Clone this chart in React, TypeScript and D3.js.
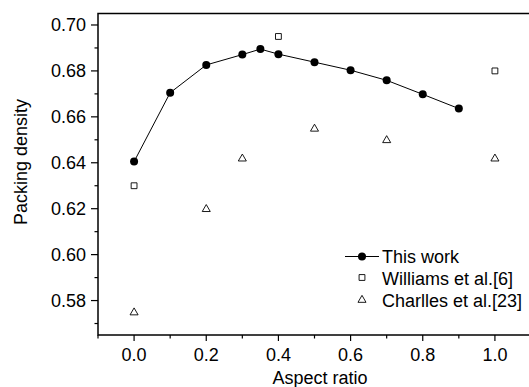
import { useEffect, useRef } from "react";
import * as d3 from "d3";

const thisWorkX = [0.0, 0.1, 0.2, 0.3, 0.35, 0.4, 0.5, 0.6, 0.7, 0.8, 0.9];
const thisWorkY = [0.6405, 0.6705, 0.6826, 0.6871, 0.6895, 0.6873, 0.6838, 0.6803, 0.6759, 0.6698, 0.6636];

const williamsX = [0.0, 0.4, 1.0];
const williamsY = [0.630, 0.695, 0.680];

const charllesX = [0.0, 0.2, 0.3, 0.5, 0.7, 1.0];
const charllesY = [0.575, 0.620, 0.642, 0.655, 0.650, 0.642];

const xTicks = [0.0, 0.2, 0.4, 0.6, 0.8, 1.0];
const yTicks = [0.58, 0.6, 0.62, 0.64, 0.66, 0.68, 0.7];
const legendLabels = ["This work", "Williams et al.[6]", "Charlles et al.[23]"];

export default function App() {
  const ref = useRef<SVGSVGElement>(null);

  useEffect(() => {
    const width = 529;
    const height = 387;
    const margin = { top: 13.5, right: -2, bottom: 52, left: 98 };
    const font = "'Liberation Sans', Arial, sans-serif";
    const fs = 18;

    const svg = d3.select(ref.current).attr("width", width).attr("height", height);
    svg.selectAll("*").remove();

    const x = d3.scaleLinear().domain([-0.1, 1.1]).range([margin.left, width - margin.right]);
    const y = d3.scaleLinear().domain([0.565, 0.705]).range([height - margin.bottom, margin.top]);

    // frame
    svg.append("rect")
      .attr("x", margin.left).attr("y", margin.top)
      .attr("width", x(1.1) - margin.left).attr("height", y(0.565) - margin.top)
      .attr("fill", "none").attr("stroke", "#000").attr("stroke-width", 1.5);

    // x axis
    const xAxis = svg.append("g").attr("transform", `translate(0,${y(0.565)})`);
    xAxis.selectAll("line")
      .data(d3.range(-0.1, 1.11, 0.1))
      .enter().append("line")
      .attr("x1", d => x(d)).attr("x2", d => x(d))
      .attr("y1", 0).attr("y2", d => (Math.abs(Math.round(d * 10) % 2) === 0 ? 6 : 3.5))
      .attr("stroke", "#000").attr("stroke-width", 1.2);
    xAxis.selectAll("text")
      .data(xTicks)
      .enter().append("text")
      .attr("x", d => x(d)).attr("y", 25.5)
      .attr("text-anchor", "middle")
      .attr("font-family", font).attr("font-size", fs)
      .text(d => d.toFixed(1));

    // y axis
    const yAxis = svg.append("g").attr("transform", `translate(${margin.left},0)`);
    yAxis.selectAll("line")
      .data(d3.range(0.57, 0.7051, 0.01))
      .enter().append("line")
      .attr("y1", d => y(d)).attr("y2", d => y(d))
      .attr("x1", 0).attr("x2", d => (Math.round(d * 100) % 2 === 0 ? -7 : -3.5))
      .attr("stroke", "#000").attr("stroke-width", 1.2);
    yAxis.selectAll("text")
      .data(yTicks)
      .enter().append("text")
      .attr("x", -12).attr("y", d => y(d) + 6.5)
      .attr("text-anchor", "end")
      .attr("font-family", font).attr("font-size", fs)
      .text(d => d.toFixed(2));

    // axis titles
    svg.append("text")
      .attr("x", 320).attr("y", 384)
      .attr("text-anchor", "middle")
      .attr("font-family", font).attr("font-size", fs)
      .text("Aspect ratio");
    svg.append("text")
      .attr("transform", "rotate(-90)")
      .attr("x", -162).attr("y", 27)
      .attr("text-anchor", "middle")
      .attr("font-family", font).attr("font-size", fs)
      .text("Packing density");

    // this work line + markers
    const pts = thisWorkX.map((d, i) => [d, thisWorkY[i]] as [number, number]);
    svg.append("path")
      .datum(pts)
      .attr("d", d3.line<[number, number]>().x(d => x(d[0])).y(d => y(d[1])))
      .attr("fill", "none").attr("stroke", "#000").attr("stroke-width", 1);
    svg.selectAll("circle.tw")
      .data(pts)
      .enter().append("circle")
      .attr("cx", d => x(d[0])).attr("cy", d => y(d[1])).attr("r", 4)
      .attr("fill", "#000");

    const square = d3.symbol().type(d3.symbolSquare).size(34);
    const triangle = d3.symbol().type(d3.symbolTriangle).size(28);

    svg.selectAll("path.wl")
      .data(williamsX.map((d, i) => [d, williamsY[i]]))
      .enter().append("path")
      .attr("d", square)
      .attr("transform", d => `translate(${x(d[0])},${y(d[1])})`)
      .attr("fill", "#fff").attr("stroke", "#000").attr("stroke-width", 0.9);

    svg.selectAll("path.ch")
      .data(charllesX.map((d, i) => [d, charllesY[i]]))
      .enter().append("path")
      .attr("d", triangle)
      .attr("transform", d => `translate(${x(d[0])},${y(d[1]) + 0.5})`)
      .attr("fill", "#fff").attr("stroke", "#000").attr("stroke-width", 0.9);

    // legend
    const lg = svg.append("g").attr("transform", "translate(362,0)");
    lg.append("line").attr("x1", -17).attr("x2", 17).attr("y1", 256.5).attr("y2", 256.5)
      .attr("stroke", "#000").attr("stroke-width", 1);
    lg.append("circle").attr("cx", 0).attr("cy", 256.5).attr("r", 4).attr("fill", "#000");
    lg.append("path").attr("d", square).attr("transform", "translate(0,277.5)")
      .attr("fill", "#fff").attr("stroke", "#000").attr("stroke-width", 0.9);
    lg.append("path").attr("d", triangle).attr("transform", "translate(0,300)")
      .attr("fill", "#fff").attr("stroke", "#000").attr("stroke-width", 0.9);
    lg.selectAll("text")
      .data(legendLabels)
      .enter().append("text")
      .attr("x", 20).attr("y", (d, i) => 262.5 + i * 22)
      .attr("font-family", font).attr("font-size", fs)
      .text(d => d);
  }, []);

  return <svg ref={ref} style={{ position: "absolute", left: 0, top: 0, background: "#fff" }} />;
}
